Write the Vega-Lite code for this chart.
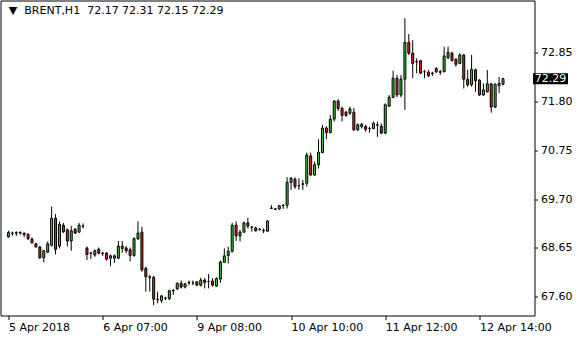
{
  "$schema": "https://vega.github.io/schema/vega-lite/v6.json",
  "width": 534,
  "height": 315,
  "autosize": "none",
  "padding": {"left": 0.5, "top": 0.5, "right": 45.5, "bottom": 24.5},
  "background": "white",
  "config": {
    "font": "DejaVu Sans",
    "view": {"stroke": "black", "strokeWidth": 1, "fill": "white"}
  },
  "data": {
    "values": [
      {"k":0,"o":68.89,"h":69.02,"l":68.87,"c":68.98},
      {"k":1,"o":68.97,"h":69.00,"l":68.91,"c":68.97},
      {"k":2,"o":68.97,"h":69.01,"l":68.91,"c":68.98},
      {"k":3,"o":68.98,"h":69.01,"l":68.94,"c":68.97},
      {"k":4,"o":68.97,"h":68.98,"l":68.88,"c":68.94},
      {"k":5,"o":68.94,"h":68.97,"l":68.82,"c":68.85},
      {"k":6,"o":68.84,"h":68.88,"l":68.75,"c":68.76},
      {"k":7,"o":68.74,"h":68.76,"l":68.67,"c":68.67},
      {"k":8,"o":68.67,"h":68.69,"l":68.41,"c":68.44},
      {"k":9,"o":68.44,"h":68.61,"l":68.34,"c":68.59},
      {"k":10,"o":68.56,"h":68.79,"l":68.54,"c":68.74},
      {"k":11,"o":68.71,"h":69.54,"l":68.68,"c":69.29},
      {"k":12,"o":69.29,"h":69.38,"l":68.51,"c":68.62},
      {"k":13,"o":68.69,"h":69.22,"l":68.64,"c":69.16},
      {"k":14,"o":69.14,"h":69.19,"l":68.97,"c":69.00},
      {"k":15,"o":69.04,"h":69.07,"l":68.68,"c":68.80},
      {"k":16,"o":68.80,"h":69.12,"l":68.59,"c":69.02},
      {"k":17,"o":69.05,"h":69.08,"l":68.95,"c":68.97},
      {"k":18,"o":68.99,"h":69.19,"l":68.98,"c":69.14},
      {"k":19,"o":69.12,"h":69.18,"l":69.07,"c":69.12},
      {"k":20,"o":68.65,"h":68.68,"l":68.39,"c":68.51},
      {"k":21,"o":68.54,"h":68.57,"l":68.41,"c":68.53},
      {"k":22,"o":68.50,"h":68.62,"l":68.46,"c":68.59},
      {"k":23,"o":68.62,"h":68.66,"l":68.51,"c":68.54},
      {"k":24,"o":68.54,"h":68.57,"l":68.48,"c":68.53},
      {"k":25,"o":68.54,"h":68.56,"l":68.38,"c":68.41},
      {"k":26,"o":68.43,"h":68.51,"l":68.26,"c":68.48},
      {"k":27,"o":68.43,"h":68.51,"l":68.33,"c":68.48},
      {"k":28,"o":68.43,"h":68.80,"l":68.41,"c":68.69},
      {"k":29,"o":68.69,"h":68.80,"l":68.55,"c":68.64},
      {"k":30,"o":68.65,"h":68.69,"l":68.54,"c":68.59},
      {"k":31,"o":68.61,"h":68.66,"l":68.36,"c":68.49},
      {"k":32,"o":68.49,"h":68.88,"l":68.46,"c":68.85},
      {"k":33,"o":68.85,"h":69.22,"l":68.82,"c":68.97},
      {"k":34,"o":68.99,"h":69.11,"l":68.14,"c":68.18},
      {"k":35,"o":68.21,"h":68.25,"l":67.71,"c":68.03},
      {"k":36,"o":68.03,"h":68.07,"l":67.71,"c":68.02},
      {"k":37,"o":68.02,"h":68.05,"l":67.42,"c":67.55},
      {"k":38,"o":67.55,"h":67.71,"l":67.46,"c":67.54},
      {"k":39,"o":67.52,"h":67.64,"l":67.47,"c":67.62},
      {"k":40,"o":67.57,"h":67.60,"l":67.53,"c":67.57},
      {"k":41,"o":67.56,"h":67.75,"l":67.53,"c":67.73},
      {"k":42,"o":67.74,"h":67.76,"l":67.64,"c":67.73},
      {"k":43,"o":67.77,"h":67.91,"l":67.75,"c":67.89},
      {"k":44,"o":67.89,"h":67.95,"l":67.78,"c":67.81},
      {"k":45,"o":67.81,"h":67.90,"l":67.78,"c":67.88},
      {"k":46,"o":67.90,"h":67.95,"l":67.85,"c":67.91},
      {"k":47,"o":67.90,"h":67.95,"l":67.85,"c":67.90},
      {"k":48,"o":67.92,"h":67.94,"l":67.83,"c":67.85},
      {"k":49,"o":67.85,"h":68.01,"l":67.82,"c":67.96},
      {"k":50,"o":67.96,"h":68.00,"l":67.78,"c":67.91},
      {"k":51,"o":67.93,"h":68.09,"l":67.78,"c":67.93},
      {"k":52,"o":67.94,"h":68.00,"l":67.82,"c":67.85},
      {"k":53,"o":67.83,"h":68.02,"l":67.81,"c":67.99},
      {"k":54,"o":67.98,"h":68.38,"l":67.90,"c":68.35},
      {"k":55,"o":68.34,"h":68.64,"l":68.33,"c":68.48},
      {"k":56,"o":68.49,"h":68.68,"l":68.32,"c":68.58},
      {"k":57,"o":68.58,"h":69.19,"l":68.55,"c":69.14},
      {"k":58,"o":69.14,"h":69.22,"l":68.80,"c":68.91},
      {"k":59,"o":68.91,"h":69.04,"l":68.79,"c":68.99},
      {"k":60,"o":68.99,"h":69.22,"l":68.98,"c":69.19},
      {"k":61,"o":69.19,"h":69.30,"l":69.07,"c":69.12},
      {"k":62,"o":69.10,"h":69.12,"l":69.00,"c":69.09},
      {"k":63,"o":69.08,"h":69.11,"l":69.00,"c":69.02},
      {"k":64,"o":69.05,"h":69.08,"l":69.02,"c":69.05},
      {"k":65,"o":69.03,"h":69.07,"l":68.97,"c":69.02},
      {"k":66,"o":69.01,"h":69.25,"l":68.99,"c":69.23},
      {"k":67,"o":69.51,"h":69.57,"l":69.49,"c":69.50},
      {"k":68,"o":69.49,"h":69.51,"l":69.47,"c":69.48},
      {"k":69,"o":69.49,"h":69.57,"l":69.47,"c":69.56},
      {"k":70,"o":69.56,"h":69.59,"l":69.49,"c":69.57},
      {"k":71,"o":69.57,"h":70.17,"l":69.50,"c":70.06},
      {"k":72,"o":70.06,"h":70.17,"l":69.90,"c":70.15},
      {"k":73,"o":70.13,"h":70.17,"l":69.92,"c":69.97},
      {"k":74,"o":69.99,"h":70.15,"l":69.90,"c":69.99},
      {"k":75,"o":70.03,"h":70.11,"l":69.90,"c":70.02},
      {"k":76,"o":70.04,"h":70.70,"l":69.97,"c":70.65},
      {"k":77,"o":70.63,"h":70.70,"l":70.20,"c":70.22},
      {"k":78,"o":70.22,"h":70.51,"l":70.20,"c":70.44},
      {"k":79,"o":70.44,"h":70.99,"l":70.36,"c":70.71},
      {"k":80,"o":70.70,"h":71.30,"l":70.69,"c":71.23},
      {"k":81,"o":71.23,"h":71.27,"l":70.99,"c":71.13},
      {"k":82,"o":71.13,"h":71.51,"l":71.12,"c":71.42},
      {"k":83,"o":71.42,"h":71.83,"l":71.37,"c":71.81},
      {"k":84,"o":71.81,"h":71.85,"l":71.60,"c":71.65},
      {"k":85,"o":71.65,"h":71.69,"l":71.37,"c":71.50},
      {"k":86,"o":71.57,"h":71.60,"l":71.47,"c":71.50},
      {"k":87,"o":71.55,"h":71.69,"l":71.51,"c":71.64},
      {"k":88,"o":71.57,"h":71.66,"l":71.17,"c":71.19},
      {"k":89,"o":71.19,"h":71.33,"l":71.17,"c":71.30},
      {"k":90,"o":71.26,"h":71.34,"l":71.22,"c":71.31},
      {"k":91,"o":71.26,"h":71.30,"l":71.15,"c":71.20},
      {"k":92,"o":71.22,"h":71.26,"l":71.13,"c":71.22},
      {"k":93,"o":71.22,"h":71.37,"l":71.20,"c":71.33},
      {"k":94,"o":71.30,"h":71.37,"l":71.04,"c":71.29},
      {"k":95,"o":71.27,"h":71.33,"l":71.10,"c":71.12},
      {"k":96,"o":71.12,"h":71.76,"l":71.10,"c":71.73},
      {"k":97,"o":71.70,"h":71.94,"l":71.69,"c":71.89},
      {"k":98,"o":71.89,"h":72.46,"l":71.87,"c":72.30},
      {"k":99,"o":72.30,"h":72.37,"l":71.89,"c":71.94},
      {"k":100,"o":71.94,"h":72.37,"l":71.89,"c":72.28},
      {"k":101,"o":72.28,"h":73.59,"l":71.62,"c":73.07},
      {"k":102,"o":73.07,"h":73.25,"l":72.80,"c":72.84},
      {"k":103,"o":72.84,"h":73.12,"l":72.30,"c":72.62},
      {"k":104,"o":72.66,"h":72.73,"l":72.41,"c":72.65},
      {"k":105,"o":72.68,"h":72.69,"l":72.39,"c":72.41},
      {"k":106,"o":72.44,"h":72.48,"l":72.30,"c":72.44},
      {"k":107,"o":72.43,"h":72.48,"l":72.33,"c":72.35},
      {"k":108,"o":72.41,"h":72.44,"l":72.35,"c":72.40},
      {"k":109,"o":72.51,"h":72.54,"l":72.41,"c":72.44},
      {"k":110,"o":72.44,"h":72.48,"l":72.37,"c":72.43},
      {"k":111,"o":72.44,"h":72.98,"l":72.43,"c":72.78},
      {"k":112,"o":72.74,"h":72.98,"l":72.71,"c":72.86},
      {"k":113,"o":72.84,"h":72.87,"l":72.66,"c":72.68},
      {"k":114,"o":72.71,"h":72.73,"l":72.55,"c":72.60},
      {"k":115,"o":72.62,"h":72.84,"l":72.60,"c":72.80},
      {"k":116,"o":72.80,"h":72.82,"l":72.08,"c":72.28},
      {"k":117,"o":72.28,"h":72.48,"l":72.12,"c":72.16},
      {"k":118,"o":72.16,"h":72.80,"l":72.12,"c":72.49},
      {"k":119,"o":72.48,"h":72.51,"l":72.01,"c":72.25},
      {"k":120,"o":72.26,"h":72.28,"l":71.92,"c":71.94},
      {"k":121,"o":71.94,"h":72.19,"l":71.92,"c":72.05},
      {"k":122,"o":72.01,"h":72.48,"l":71.99,"c":72.18},
      {"k":123,"o":72.18,"h":72.19,"l":71.56,"c":71.68},
      {"k":124,"o":71.68,"h":72.19,"l":71.66,"c":72.17},
      {"k":125,"o":72.14,"h":72.33,"l":71.98,"c":72.19},
      {"k":126,"o":72.17,"h":72.31,"l":72.15,"c":72.29}
    ]
  },
  "layer": [
    {
      "mark": {"type": "rule", "color": "black", "strokeWidth": 1},
      "encoding": {
        "x": {
          "field": "k", "type": "quantitative",
          "scale": {"domain": [-0.75, 132.75], "nice": false, "zero": false},
          "axis": {
            "orient": "bottom", "values": [0, 24, 48, 72, 96, 120],
            "labelExpr": "['5 Apr 2018','6 Apr 07:00','9 Apr 08:00','10 Apr 10:00','11 Apr 12:00','12 Apr 14:00'][round(datum.value/24)]",
            "labelAlign": "left", "title": null, "grid": false, "domain": false,
            "tickSize": 4, "tickColor": "black", "labelColor": "black",
            "labelFont": "DejaVu Sans", "labelFontSize": 11, "labelPadding": 2,
            "labelFlush": false, "labelOverlap": false
          }
        },
        "y": {
          "field": "l", "type": "quantitative",
          "scale": {"domain": [67.198, 73.972], "nice": false, "zero": false},
          "axis": {
            "orient": "right", "values": [67.6, 68.65, 69.7, 70.75, 71.8, 72.85],
            "format": ".2f", "title": null, "grid": false, "domain": false,
            "tickSize": 3, "tickColor": "black", "labelColor": "black",
            "labelFont": "DejaVu Sans", "labelFontSize": 11, "labelPadding": 3,
            "labelFlush": false, "labelOverlap": false
          }
        },
        "y2": {"field": "h"}
      }
    },
    {
      "mark": {"type": "bar", "width": 2, "stroke": "black", "strokeWidth": 1},
      "encoding": {
        "x": {
          "field": "k", "type": "quantitative",
          "scale": {"domain": [-0.75, 132.75], "nice": false, "zero": false},
          "axis": {
            "orient": "bottom", "values": [0, 24, 48, 72, 96, 120],
            "labelExpr": "['5 Apr 2018','6 Apr 07:00','9 Apr 08:00','10 Apr 10:00','11 Apr 12:00','12 Apr 14:00'][round(datum.value/24)]",
            "labelAlign": "left", "title": null, "grid": false, "domain": false,
            "tickSize": 4, "tickColor": "black", "labelColor": "black",
            "labelFont": "DejaVu Sans", "labelFontSize": 11, "labelPadding": 2,
            "labelFlush": false, "labelOverlap": false
          }
        },
        "y": {
          "field": "o", "type": "quantitative",
          "scale": {"domain": [67.198, 73.972], "nice": false, "zero": false},
          "axis": {
            "orient": "right", "values": [67.6, 68.65, 69.7, 70.75, 71.8, 72.85],
            "format": ".2f", "title": null, "grid": false, "domain": false,
            "tickSize": 3, "tickColor": "black", "labelColor": "black",
            "labelFont": "DejaVu Sans", "labelFontSize": 11, "labelPadding": 3,
            "labelFlush": false, "labelOverlap": false
          }
        },
        "y2": {"field": "c"},
        "fill": {
          "condition": {"test": "datum.c > datum.o", "value": "#33cc33"},
          "value": "#ee2020"
        }
      }
    },
    {
      "data": {"values": [{"price": 72.29}]},
      "mark": {"type": "point", "shape": "M-1,-0.314H1V0.314H-1Z", "filled": true, "color": "black", "opacity": 1, "size": 1225, "clip": false},
      "encoding": {
        "x": {"datum": 138.1, "type": "quantitative", "scale": {"domain": [-0.75, 132.75], "nice": false, "zero": false}},
        "y": {"field": "price", "type": "quantitative", "scale": {"domain": [67.198, 73.972], "nice": false, "zero": false}}
      }
    },
    {
      "data": {"values": [{"price": 72.29}]},
      "mark": {"type": "text", "color": "white", "font": "DejaVu Sans", "fontSize": 11, "align": "center", "baseline": "middle", "clip": false},
      "encoding": {
        "x": {"datum": 138.1, "type": "quantitative", "scale": {"domain": [-0.75, 132.75], "nice": false, "zero": false}},
        "y": {"field": "price", "type": "quantitative", "scale": {"domain": [67.198, 73.972], "nice": false, "zero": false}},
        "text": {"field": "price", "format": ".2f"}
      }
    },
    {
      "data": {"values": [{"label": "▼\u00a0\u00a0BRENT,H1\u00a0\u00a072.17 72.31 72.15 72.29"}]},
      "mark": {"type": "text", "color": "black", "font": "DejaVu Sans", "fontSize": 11, "align": "left", "baseline": "alphabetic", "clip": false},
      "encoding": {
        "x": {"datum": 0.1, "type": "quantitative", "scale": {"domain": [-0.75, 132.75], "nice": false, "zero": false}},
        "y": {"datum": 73.671, "type": "quantitative", "scale": {"domain": [67.198, 73.972], "nice": false, "zero": false}},
        "text": {"field": "label"}
      }
    }
  ]
}
